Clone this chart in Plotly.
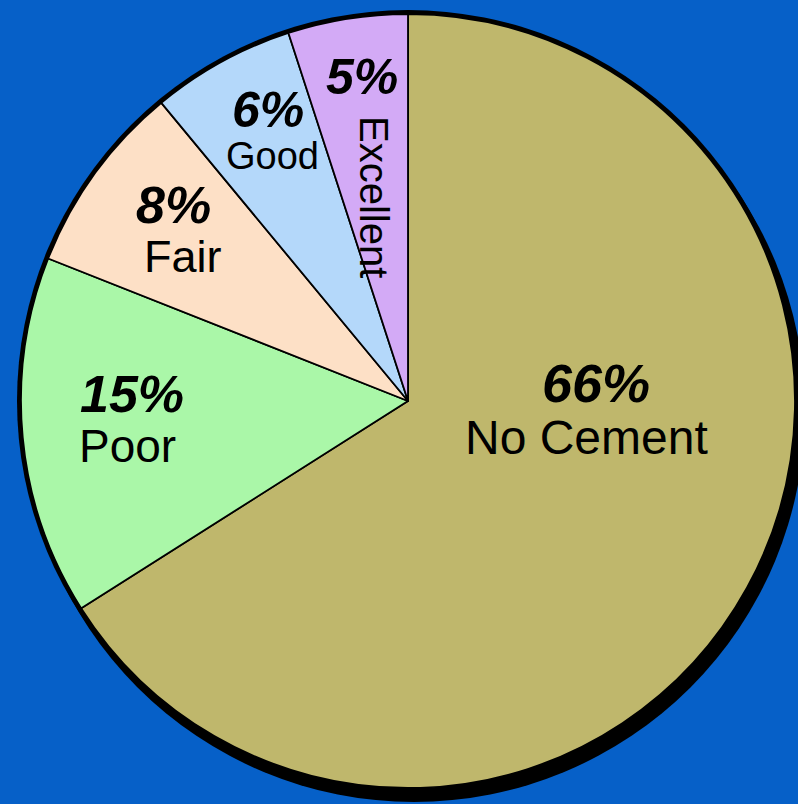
import plotly.graph_objects as go

# Cement bond quality breakdown
categories = ["No Cement", "Poor", "Fair", "Good", "Excellent"]
shares = [66, 15, 8, 6, 5]

slice_colors = ["#BFB76C", "#AAF7A8", "#FDE0C6", "#B4D8FA", "#D3AAF6"]
background = "#0660C8"

W, H = 798, 804
cx, cy, r = 408, 401, 387  # pie centre / radius in pixels (y from top)


def px_x(v):
    return v / W


def px_y(v):
    return 1 - v / H


fig = go.Figure(
    go.Pie(
        labels=categories,
        values=shares,
        sort=False,
        direction="clockwise",
        rotation=0,
        marker=dict(colors=slice_colors, line=dict(color="black", width=1.8)),
        textinfo="none",
        hoverinfo="label+percent",
        showlegend=False,
        domain=dict(x=[px_x(cx - r), px_x(cx + r)], y=[px_y(cy + r), px_y(cy - r)]),
    )
)

# drop shadow and dark rim under the pie
shapes = []
for (ox, oy, rr) in [(6, 10, 391), (0, 0, 391)]:
    shapes.append(
        dict(
            type="circle", xref="paper", yref="paper", layer="below",
            x0=px_x(cx + ox - rr), x1=px_x(cx + ox + rr),
            y0=px_y(cy + oy + rr), y1=px_y(cy + oy - rr),
            fillcolor="black", line=dict(width=0),
        )
    )

# label placement for each slice: (pct x, pct y, name x, name y, pct size, name size, name angle)
label_style = {
    "No Cement": (596, 383, 586, 437, 54, 48, 0),
    "Poor": (132, 394, 127, 446, 52, 46, 0),
    "Fair": (173, 205, 183, 256, 52, 45, 0),
    "Good": (268, 110, 272, 156, 50, 38, 0),
    "Excellent": (362, 77, 374, 197, 50, 40, 90),
}

FONT = "Liberation Sans, Arial, sans-serif"
annotations = []
for name, val in zip(categories, shares):
    px1, py1, px2, py2, fs1, fs2, ang = label_style[name]
    annotations.append(
        dict(
            text=f"<b><i>{val}%</i></b>", x=px_x(px1), y=px_y(py1),
            xref="paper", yref="paper", xanchor="center", yanchor="middle",
            showarrow=False, font=dict(family=FONT, size=fs1, color="black"),
        )
    )
    annotations.append(
        dict(
            text=name, x=px_x(px2), y=px_y(py2), textangle=ang,
            xref="paper", yref="paper", xanchor="center", yanchor="middle",
            showarrow=False, font=dict(family=FONT, size=fs2, color="black"),
        )
    )

fig.update_layout(
    width=W, height=H,
    margin=dict(l=0, r=0, t=0, b=0),
    paper_bgcolor=background,
    plot_bgcolor=background,
    shapes=shapes,
    annotations=annotations,
)

fig.write_html("out.html")
